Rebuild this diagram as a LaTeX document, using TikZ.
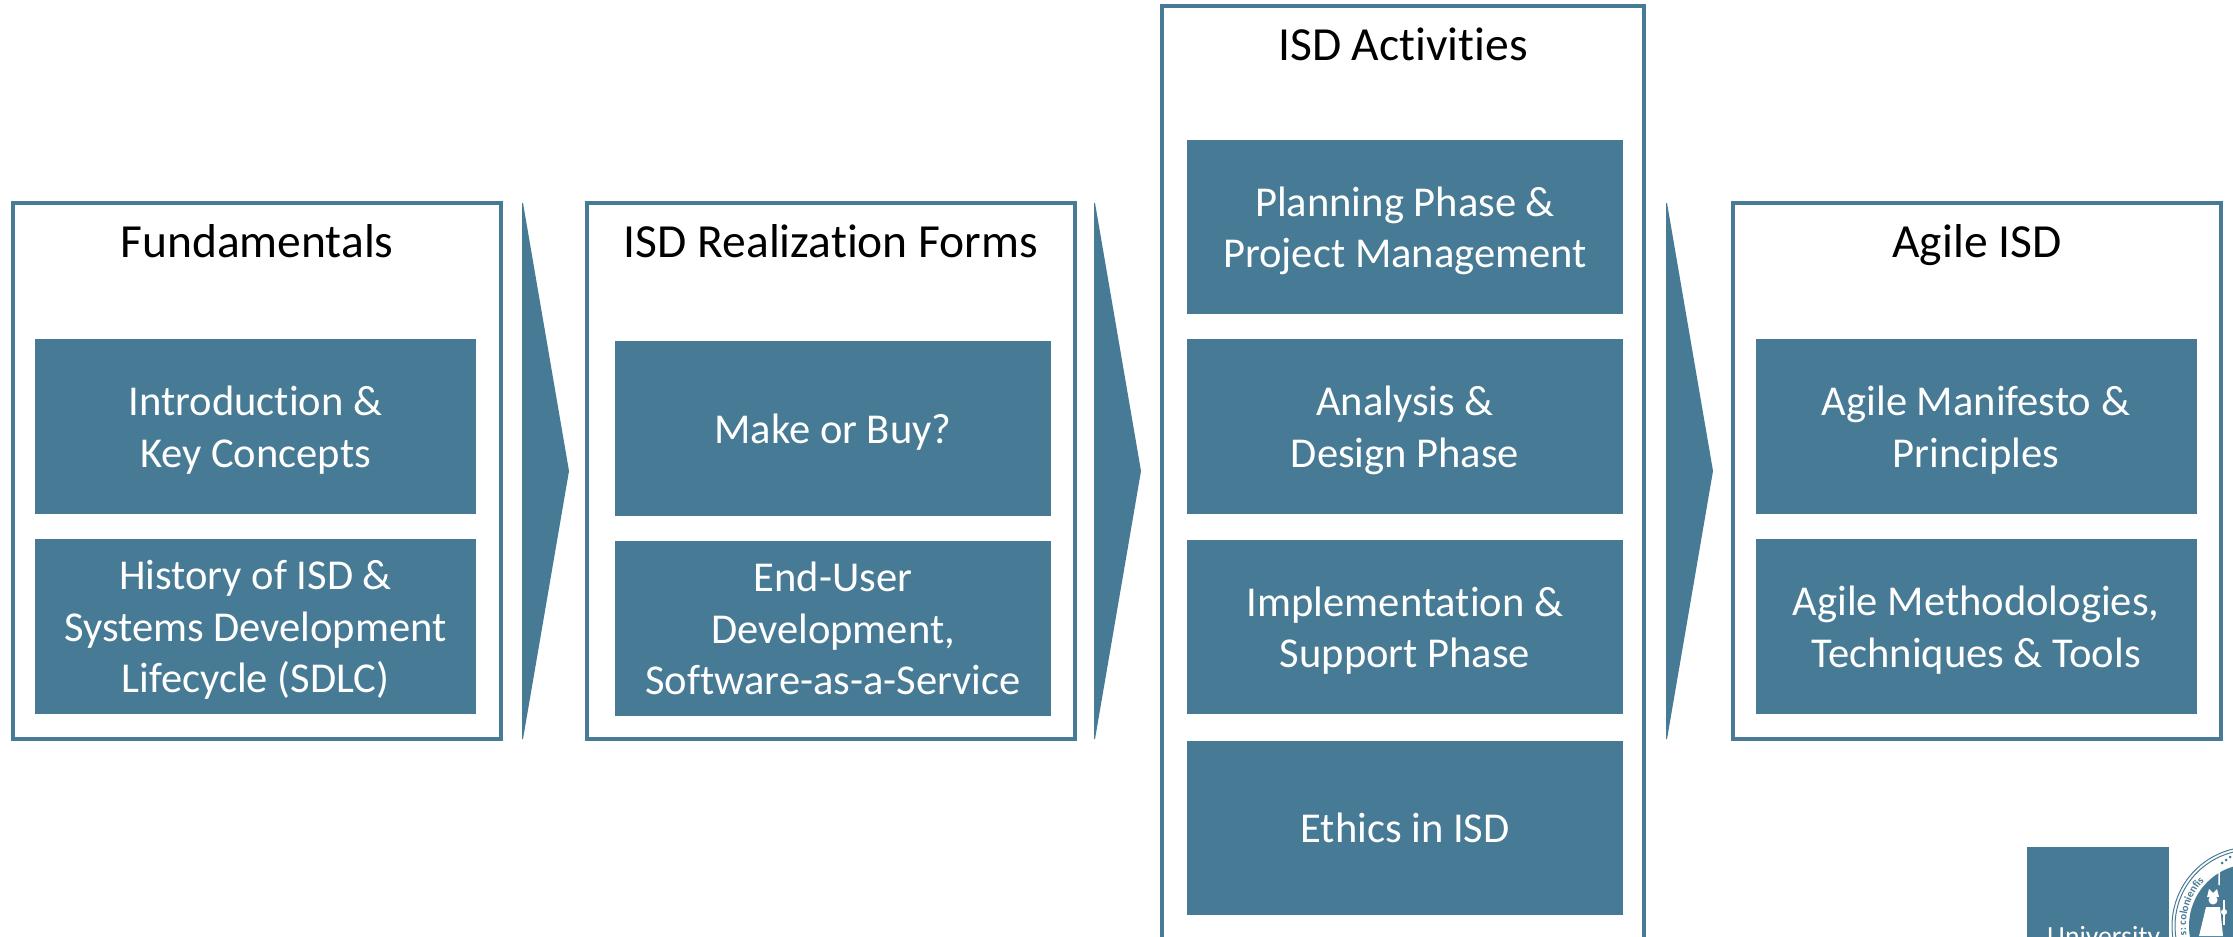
\documentclass[tikz,border=0pt]{standalone}
\usepackage{fontspec}
\setmainfont[Ligatures=NoCommon]{Carlito}
\usetikzlibrary{decorations.text}
\definecolor{isdblue}{RGB}{71,122,148}
\tikzset{
	x=0.0355cm, y=-0.0355cm,
	frame/.style={draw=isdblue, line width=4pt, fill=white},
	topic/.style={fill=isdblue, text=white, font=\fontsize{43}{52}\selectfont, align=center, anchor=center, inner sep=0pt, minimum height=6.21cm, text depth=0pt},
	wide/.style={topic, minimum width=15.66cm},
	narrow/.style={topic, minimum width=15.48cm},
	heading/.style={text=black, font=\fontsize{48}{50}\selectfont, anchor=base, inner sep=0pt},
	flow/.style={fill=isdblue}
}
\begin{document}
\begin{tikzpicture}
	\useasboundingbox (0,0) rectangle (2233,936);
	\clip (0,0) rectangle (2233,936);

	% frames
	\draw[frame] (13,203) rectangle (501,739);
	\draw[frame] (587,203) rectangle (1075,739);
	\draw[frame] (1162,6) rectangle (1644,960);
	\draw[frame] (1733,203) rectangle (2221,739);

	\node[heading] (fundamentals) at (257,257) {Fundamentals};
	\node[heading] (forms) at (831,257) {ISD Realization Forms};
	\node[heading] (activities) at (1403,60) {ISD Activities};
	\node[heading] (agile) at (1977,257) {Agile ISD};

	% flow arrows
	\foreach \xa in {522,1094,1666}
		\fill[flow] (\xa,203) -- (\xa+1,203) -- (\xa+47,471) -- (\xa+1,739) -- (\xa,739) -- cycle;

	% topics
	\node[wide] (intro) at (255.5,426.5) {Introduction \&\\Key Concepts};
	\node[wide] (history) at (255.5,626.5) {History of ISD \&\\Systems Development\\Lifecycle (SDLC)};
	\node[narrow] (make) at (833,428.5) {Make or Buy?};
	\node[narrow] (enduser) at (833,628.5) {End-User\\Development,\\Software-as-a-Service};
	\node[narrow] (planning) at (1405,227) {Planning Phase \&\\Project Management};
	\node[narrow] (analysis) at (1405,426.5) {Analysis \&\\Design Phase};
	\node[narrow] (implementation) at (1405,627) {Implementation \&\\Support Phase};
	\node[narrow] (ethics) at (1405,828) {Ethics in ISD};
	\node[wide] (manifesto) at (1976,426.5) {Agile Manifesto \&\\Principles};
	\node[wide] (methods) at (1976,626.5) {Agile Methodologies,\\Techniques \& Tools};

	% logo
	\fill[flow] (2027,847) rectangle (2169,990);
	\node[text=white, font=\fontsize{28}{30}\selectfont, anchor=base west, inner sep=0pt] (university) at (2047,945) {University};
	\draw[isdblue, line width=1pt, fill=white] (2251,926) circle (79);
	\draw[isdblue, line width=1pt] (2251,926) circle (76);
	\fill[flow] (2251,926) circle (62);
	\path[decorate, decoration={text along path, text={|\fontsize{11}{11}\selectfont\bfseries\color{isdblue}|s: colonienfis}, text align=left}]
		(2251,926) ++(172:65) arc (172:265:65);

	% seal figure
	\fill[white] (2213,900) circle (4.5);
	\fill[white] (2207,897) -- (2209,889) -- (2213,893) -- (2217,889) -- (2219,897) -- cycle;
	\fill[white] (2206,907) -- (2220,907) -- (2223,936) -- (2199,936) -- cycle;
	\draw[white, line width=1.5pt] (2224,900) -- (2224,925);
	\fill[white] (2224,912) circle (3);
	\draw[white, line width=1.5pt] (2219,885) -- (2219,870) -- (2229,857) -- (2239,870) -- (2239,885);
	\foreach \xd/\yd in {2222/863, 2226/860, 2230/857}
		\fill[isdblue] (\xd,\yd) circle (1.5);
\end{tikzpicture}
\end{document}
